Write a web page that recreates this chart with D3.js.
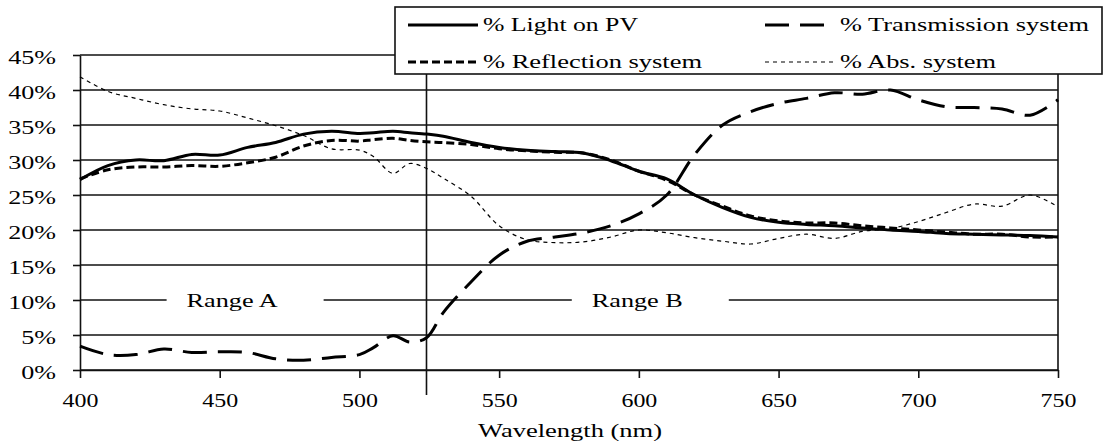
<!DOCTYPE html>
<html>
<head>
<meta charset="utf-8">
<script src="https://cdn.jsdelivr.net/npm/d3@7"></script>
<style>
	body { margin: 0; background: #fff; }
	text { font-family: "Liberation Serif", "Times New Roman", serif; fill: #000; }
</style>
</head>
<body>
<div class="canvas"></div>
<script>
/*global d3 */

// data (percent)
const wavelengths = [400, 410, 420, 430, 440, 450, 460, 470, 480, 490, 500, 505, 512, 518, 524, 530, 540, 550, 560, 570,
	580, 590, 600, 610, 620, 630, 640, 650, 660, 670, 680, 690, 700, 710, 720, 730, 740, 750];
const lightOnPV = [27.2, 29.2, 30.0, 29.9, 30.8, 30.7, 31.8, 32.5, 33.7, 34.1, 33.8, 33.9, 34.1, 33.9, 33.7, 33.4, 32.5, 31.8, 31.4, 31.2,
	31.0, 29.9, 28.4, 27.3, 25.0, 23.2, 21.8, 21.1, 20.8, 20.6, 20.3, 20.0, 19.8, 19.5, 19.4, 19.3, 19.2, 19.0];
const reflection = [27.3, 28.6, 29.0, 29.0, 29.2, 29.1, 29.6, 30.4, 32.0, 32.8, 32.7, 32.9, 33.1, 32.8, 32.6, 32.5, 32.2, 31.6, 31.3, 31.1,
	31.0, 30.0, 28.4, 27.1, 25.0, 23.4, 22.0, 21.3, 21.0, 21.0, 20.6, 20.3, 20.0, 19.7, 19.4, 19.4, 19.0, 19.0];
const transmission = [3.4, 2.2, 2.2, 3.0, 2.5, 2.6, 2.5, 1.6, 1.4, 1.8, 2.2, 3.2, 4.9, 4.0, 4.6, 8.2, 12.6, 16.4, 18.4, 19.0,
	19.6, 20.6, 22.3, 25.0, 30.8, 35.0, 36.9, 38.1, 38.8, 39.6, 39.4, 40.0, 38.6, 37.6, 37.5, 37.3, 36.4, 38.6];
const absorption = [41.9, 39.8, 38.8, 37.9, 37.3, 37.0, 36.0, 34.9, 33.5, 31.6, 31.4, 30.5, 28.1, 29.5, 28.8, 27.4, 24.8, 20.6, 18.6, 18.2,
	18.3, 19.0, 20.0, 19.6, 18.9, 18.4, 18.0, 18.8, 19.4, 18.8, 19.8, 20.2, 21.2, 22.5, 23.7, 23.4, 25.0, 23.3];

const xTicks = [400, 450, 500, 550, 600, 650, 700, 750];
const yTicks = [0, 5, 10, 15, 20, 25, 30, 35, 40, 45];
const rangeNames = ['Range A', 'Range B'];
const rangeLabelStart = [431, 576];
const rangeSplit = 524;

const series = [
	{name: '% Light on PV', values: lightOnPV, width: 3, dash: null},
	{name: '% Transmission system', values: transmission, width: 3, dash: '24,11'},
	{name: '% Reflection system', values: reflection, width: 3, dash: '8,4'},
	{name: '% Abs. system', values: absorption, width: 1.2, dash: '4,4'}
];

const svg = d3.select('.canvas').append('svg')
	.attr('width', 1103)
	.attr('height', 446);

const x = d3.scaleLinear().domain([400, 750]).range([80, 1058]);
const y = d3.scaleLinear().domain([0, 45]).range([370, 55]);

// horizontal grid
svg.append('g').selectAll('line')
	.data(yTicks)
	.enter().append('line')
	.attr('x1', x(400)).attr('x2', x(750))
	.attr('y1', d => y(d)).attr('y2', d => y(d))
	.attr('stroke', '#111').attr('stroke-width', 1.6);

// right border
svg.append('line')
	.attr('x1', x(750)).attr('x2', x(750))
	.attr('y1', y(45)).attr('y2', y(0))
	.attr('stroke', '#111').attr('stroke-width', 1.6);

// axes
const xAxis = d3.axisBottom(x).tickValues(xTicks).tickSize(8).tickPadding(14).tickSizeOuter(0);
const yAxis = d3.axisLeft(y).tickValues(yTicks).tickSize(7).tickPadding(4).tickSizeOuter(0)
	.tickFormat(d => d + '%');

const xAxisGroup = svg.append('g').attr('transform', `translate(0, ${y(0)})`).call(xAxis);
const yAxisGroup = svg.append('g').attr('transform', `translate(${x(400)}, 0)`).call(yAxis);

[xAxisGroup, yAxisGroup].forEach(g => {
	g.select('.domain').attr('stroke', '#111').attr('stroke-width', 1.6);
	g.selectAll('.tick line').attr('stroke', '#111').attr('stroke-width', 1.6);
	g.selectAll('text').style('font-size', '18px').attr('fill', '#000');
});
xAxisGroup.selectAll('text').attr('transform', 'scale(1.33,1)').attr('dy', '0.85em');
yAxisGroup.selectAll('text')
	.attr('x', -16.5)
	.attr('dy', '0.45em')
	.attr('transform', 'scale(1.45,1)');

// vertical split line between the two ranges
svg.append('line')
	.attr('x1', x(rangeSplit)).attr('x2', x(rangeSplit))
	.attr('y1', y(45)).attr('y2', y(0) + 25)
	.attr('stroke', '#111').attr('stroke-width', 1.6);

// range labels sitting on the 10% line
const rangeGroup = svg.append('g').selectAll('g')
	.data(rangeNames)
	.enter().append('g')
	.attr('transform', (d, i) => `translate(${x(rangeLabelStart[i])}, ${y(10)})`);
rangeGroup.append('rect')
	.attr('x', 0).attr('y', -14).attr('width', 157).attr('height', 28)
	.attr('fill', '#fff');
rangeGroup.append('text')
	.attr('x', 20).attr('y', 7)
	.style('font-size', '19px')
	.attr('textLength', 91).attr('lengthAdjust', 'spacingAndGlyphs')
	.text(d => d);

// lines
const line = d3.line()
	.x((d, i) => x(wavelengths[i]))
	.y(d => y(d))
	.curve(d3.curveCatmullRom.alpha(0.5));

svg.append('g').selectAll('path')
	.data(series)
	.enter().append('path')
	.attr('d', d => line(d.values))
	.attr('fill', 'none')
	.attr('stroke', '#000')
	.attr('stroke-width', d => d.width)
	.attr('stroke-dasharray', d => d.dash)
	.attr('stroke-linejoin', 'round');

// legend
svg.append('rect')
	.attr('x', 395).attr('y', 7).attr('width', 707).attr('height', 67)
	.attr('fill', '#fff').attr('stroke', '#111').attr('stroke-width', 1.6);

const legendPos = [
	{lx: 408, ly: 25, w: 155},
	{lx: 765, ly: 25, w: 249},
	{lx: 408, ly: 62, w: 219},
	{lx: 765, ly: 62, w: 156}
];

const legend = svg.append('g').selectAll('g')
	.data(series)
	.enter().append('g')
	.attr('transform', (d, i) => `translate(${legendPos[i].lx}, ${legendPos[i].ly})`);
legend.append('line')
	.attr('x1', 0).attr('x2', 70)
	.attr('stroke', '#000')
	.attr('stroke-width', d => d.width)
	.attr('stroke-dasharray', d => d.dash);
legend.append('text')
	.attr('x', 75).attr('y', 6)
	.style('font-size', '18px')
	.attr('textLength', (d, i) => legendPos[i].w)
	.attr('lengthAdjust', 'spacingAndGlyphs')
	.text(d => d.name);

// axis title
svg.append('text')
	.attr('x', 570).attr('y', 437)
	.attr('text-anchor', 'middle')
	.style('font-size', '19px')
	.attr('textLength', 184).attr('lengthAdjust', 'spacingAndGlyphs')
	.text('Wavelength (nm)');
</script>
</body>
</html>
